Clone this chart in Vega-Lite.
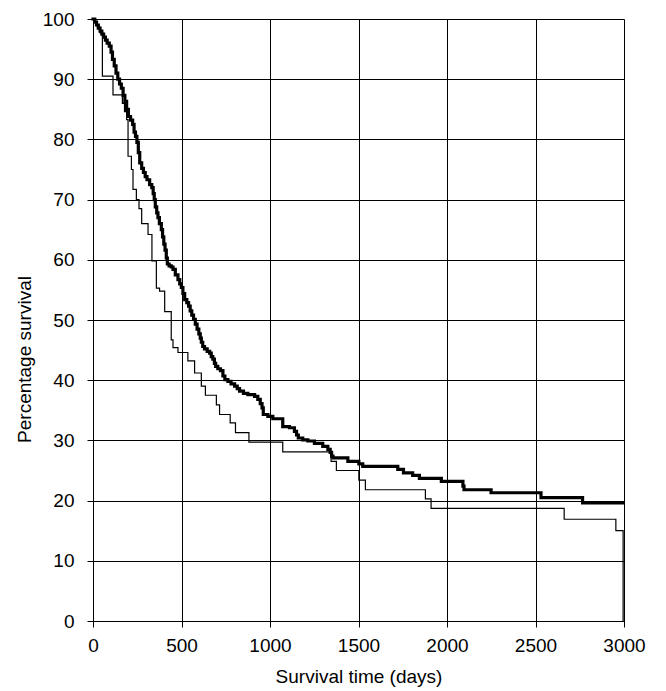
{
  "$schema": "https://vega.github.io/schema/vega-lite/v6.json",
  "autosize": "none",
  "width": 531,
  "height": 602,
  "padding": {"left": 93, "top": 19, "right": 42, "bottom": 70},
  "background": "white",
  "config": {
    "font": "Liberation Sans",
    "view": {"stroke": null},
    "axis": {
      "domainColor": "black",
      "domainWidth": 1,
      "tickColor": "black",
      "tickSize": 6,
      "gridColor": "black",
      "gridWidth": 1,
      "gridOpacity": 1,
      "labelColor": "black",
      "labelFont": "Liberation Sans",
      "titleFont": "Liberation Sans",
      "labelFontSize": 19,
      "titleFontSize": 19,
      "titleFontWeight": "normal",
      "titleColor": "black"
    }
  },
  "data": {
    "values": [
      {"group": "A", "day": 0, "surv": 100},
      {"group": "A", "day": 10, "surv": 99.5},
      {"group": "A", "day": 20, "surv": 99},
      {"group": "A", "day": 30, "surv": 98.5},
      {"group": "A", "day": 40, "surv": 98},
      {"group": "A", "day": 50, "surv": 97.5},
      {"group": "A", "day": 60, "surv": 97},
      {"group": "A", "day": 70, "surv": 96.5},
      {"group": "A", "day": 80, "surv": 96},
      {"group": "A", "day": 92, "surv": 95.5},
      {"group": "A", "day": 102, "surv": 94.5},
      {"group": "A", "day": 110, "surv": 93.3},
      {"group": "A", "day": 120, "surv": 92.2},
      {"group": "A", "day": 130, "surv": 91.0},
      {"group": "A", "day": 140, "surv": 90.0},
      {"group": "A", "day": 150, "surv": 89.2},
      {"group": "A", "day": 160, "surv": 88.5},
      {"group": "A", "day": 170, "surv": 87.3},
      {"group": "A", "day": 180, "surv": 86.3},
      {"group": "A", "day": 190, "surv": 85.0},
      {"group": "A", "day": 200, "surv": 83.8},
      {"group": "A", "day": 212, "surv": 83.2},
      {"group": "A", "day": 224, "surv": 82.5},
      {"group": "A", "day": 232, "surv": 81.2},
      {"group": "A", "day": 240, "surv": 80.5},
      {"group": "A", "day": 248, "surv": 79.5},
      {"group": "A", "day": 256, "surv": 77.8},
      {"group": "A", "day": 264, "surv": 76.1},
      {"group": "A", "day": 275, "surv": 75.2},
      {"group": "A", "day": 285, "surv": 74.5},
      {"group": "A", "day": 295, "surv": 73.8},
      {"group": "A", "day": 305, "surv": 73.3},
      {"group": "A", "day": 320, "surv": 72.5},
      {"group": "A", "day": 332, "surv": 72.0},
      {"group": "A", "day": 340, "surv": 71.0},
      {"group": "A", "day": 346, "surv": 70.0},
      {"group": "A", "day": 352, "surv": 68.8},
      {"group": "A", "day": 360, "surv": 67.8},
      {"group": "A", "day": 367, "surv": 67.0},
      {"group": "A", "day": 375, "surv": 66.0},
      {"group": "A", "day": 386, "surv": 65.0},
      {"group": "A", "day": 393, "surv": 63.8},
      {"group": "A", "day": 400, "surv": 62.6},
      {"group": "A", "day": 407, "surv": 61.6},
      {"group": "A", "day": 414, "surv": 60.3},
      {"group": "A", "day": 420, "surv": 59.3},
      {"group": "A", "day": 430, "surv": 59.0},
      {"group": "A", "day": 442, "surv": 58.8},
      {"group": "A", "day": 452, "surv": 58.4},
      {"group": "A", "day": 465, "surv": 57.5},
      {"group": "A", "day": 480, "surv": 56.7},
      {"group": "A", "day": 490, "surv": 56.0},
      {"group": "A", "day": 499, "surv": 55.4},
      {"group": "A", "day": 508, "surv": 54.4},
      {"group": "A", "day": 518, "surv": 53.4},
      {"group": "A", "day": 530, "surv": 52.9},
      {"group": "A", "day": 540, "surv": 52.3},
      {"group": "A", "day": 549, "surv": 51.5},
      {"group": "A", "day": 558, "surv": 50.8},
      {"group": "A", "day": 568, "surv": 50.1},
      {"group": "A", "day": 578, "surv": 49.3},
      {"group": "A", "day": 588, "surv": 48.5},
      {"group": "A", "day": 598, "surv": 47.7},
      {"group": "A", "day": 606, "surv": 47.0},
      {"group": "A", "day": 612, "surv": 46.3},
      {"group": "A", "day": 620, "surv": 45.6},
      {"group": "A", "day": 630, "surv": 45.2},
      {"group": "A", "day": 645, "surv": 44.8},
      {"group": "A", "day": 659, "surv": 44.5},
      {"group": "A", "day": 668, "surv": 43.9},
      {"group": "A", "day": 677, "surv": 43.5},
      {"group": "A", "day": 686, "surv": 42.8},
      {"group": "A", "day": 693, "surv": 42.3},
      {"group": "A", "day": 705, "surv": 41.9},
      {"group": "A", "day": 720, "surv": 41.6},
      {"group": "A", "day": 734, "surv": 40.7},
      {"group": "A", "day": 745, "surv": 40.1},
      {"group": "A", "day": 762, "surv": 39.8},
      {"group": "A", "day": 780, "surv": 39.4},
      {"group": "A", "day": 800, "surv": 39.0},
      {"group": "A", "day": 815, "surv": 38.6},
      {"group": "A", "day": 828, "surv": 38.2},
      {"group": "A", "day": 850, "surv": 37.8},
      {"group": "A", "day": 875, "surv": 37.6},
      {"group": "A", "day": 913, "surv": 37.3},
      {"group": "A", "day": 931, "surv": 36.8},
      {"group": "A", "day": 945, "surv": 36.1},
      {"group": "A", "day": 955, "surv": 35.4},
      {"group": "A", "day": 962, "surv": 34.3},
      {"group": "A", "day": 988, "surv": 34.0},
      {"group": "A", "day": 1016, "surv": 33.6},
      {"group": "A", "day": 1072, "surv": 32.3},
      {"group": "A", "day": 1110, "surv": 32.1},
      {"group": "A", "day": 1138, "surv": 31.5},
      {"group": "A", "day": 1150, "surv": 30.9},
      {"group": "A", "day": 1160, "surv": 30.4},
      {"group": "A", "day": 1185, "surv": 30.1},
      {"group": "A", "day": 1214, "surv": 29.9},
      {"group": "A", "day": 1251, "surv": 29.5},
      {"group": "A", "day": 1298, "surv": 29.0},
      {"group": "A", "day": 1327, "surv": 28.5},
      {"group": "A", "day": 1340, "surv": 28.0},
      {"group": "A", "day": 1348, "surv": 27.4},
      {"group": "A", "day": 1356, "surv": 27.1},
      {"group": "A", "day": 1440, "surv": 26.5},
      {"group": "A", "day": 1502, "surv": 26.1},
      {"group": "A", "day": 1524, "surv": 25.7},
      {"group": "A", "day": 1722, "surv": 25.2},
      {"group": "A", "day": 1754, "surv": 24.6},
      {"group": "A", "day": 1806, "surv": 24.2},
      {"group": "A", "day": 1844, "surv": 23.7},
      {"group": "A", "day": 1968, "surv": 23.2},
      {"group": "A", "day": 2090, "surv": 22.4},
      {"group": "A", "day": 2096, "surv": 21.8},
      {"group": "A", "day": 2249, "surv": 21.3},
      {"group": "A", "day": 2531, "surv": 20.5},
      {"group": "A", "day": 2766, "surv": 19.6},
      {"group": "A", "day": 2995, "surv": 19.6},
      {"group": "B", "day": 0, "surv": 100},
      {"group": "B", "day": 12, "surv": 99.3},
      {"group": "B", "day": 25, "surv": 98.6},
      {"group": "B", "day": 40, "surv": 97.7},
      {"group": "B", "day": 53, "surv": 90.5},
      {"group": "B", "day": 113, "surv": 87.4},
      {"group": "B", "day": 166, "surv": 86.0},
      {"group": "B", "day": 178, "surv": 84.6},
      {"group": "B", "day": 190, "surv": 83.3},
      {"group": "B", "day": 198, "surv": 77.2},
      {"group": "B", "day": 217, "surv": 75.0},
      {"group": "B", "day": 226, "surv": 71.7},
      {"group": "B", "day": 245, "surv": 70.0},
      {"group": "B", "day": 260, "surv": 68.5},
      {"group": "B", "day": 275, "surv": 66.0},
      {"group": "B", "day": 311, "surv": 64.2},
      {"group": "B", "day": 333, "surv": 59.8},
      {"group": "B", "day": 358, "surv": 55.3},
      {"group": "B", "day": 376, "surv": 54.8},
      {"group": "B", "day": 405, "surv": 51.4},
      {"group": "B", "day": 442, "surv": 46.7},
      {"group": "B", "day": 452, "surv": 45.4},
      {"group": "B", "day": 480, "surv": 44.6},
      {"group": "B", "day": 536, "surv": 43.2},
      {"group": "B", "day": 574, "surv": 41.2},
      {"group": "B", "day": 612, "surv": 39.0},
      {"group": "B", "day": 635, "surv": 37.5},
      {"group": "B", "day": 697, "surv": 35.9},
      {"group": "B", "day": 715, "surv": 34.3},
      {"group": "B", "day": 775, "surv": 32.9},
      {"group": "B", "day": 805, "surv": 31.3},
      {"group": "B", "day": 881, "surv": 29.7},
      {"group": "B", "day": 1072, "surv": 28.1},
      {"group": "B", "day": 1345, "surv": 26.5},
      {"group": "B", "day": 1375, "surv": 25.0},
      {"group": "B", "day": 1502, "surv": 23.4},
      {"group": "B", "day": 1539, "surv": 21.8},
      {"group": "B", "day": 1878, "surv": 20.3},
      {"group": "B", "day": 1910, "surv": 18.7},
      {"group": "B", "day": 2662, "surv": 16.9},
      {"group": "B", "day": 2954, "surv": 15.0},
      {"group": "B", "day": 2995, "surv": 0}
    ]
  },
  "mark": {"type": "line", "interpolate": "step-after", "color": "black", "strokeCap": "square"},
  "encoding": {
    "x": {
      "field": "day",
      "type": "quantitative",
      "scale": {"domain": [0, 3000], "nice": false},
      "axis": {"values": [0, 500, 1000, 1500, 2000, 2500, 3000], "format": "d", "title": "Survival time (days)", "labelPadding": 9, "titlePadding": 12, "labelFlush": false, "labelFontSize": 19, "titleFontSize": 19}
    },
    "y": {
      "field": "surv",
      "type": "quantitative",
      "scale": {"domain": [0, 100], "nice": false},
      "axis": {"values": [0, 10, 20, 30, 40, 50, 60, 70, 80, 90, 100], "format": "d", "title": "Percentage survival", "labelPadding": 13, "titlePadding": 8, "titleY": 340, "labelFontSize": 19, "titleFontSize": 19}
    },
    "detail": {"field": "group", "type": "nominal"},
    "strokeWidth": {
      "field": "group",
      "type": "nominal",
      "scale": {"domain": ["A", "B"], "range": [3.2, 1.2]},
      "legend": null
    }
  }
}
